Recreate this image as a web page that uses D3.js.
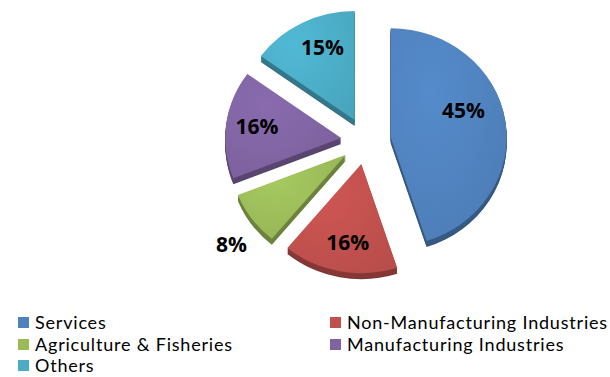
<!DOCTYPE html>
<html><head><meta charset="utf-8">
<script src="https://cdn.jsdelivr.net/npm/d3@7"></script>
<style>body{margin:0;background:#fff;} svg{display:block;}</style>
</head><body>
<svg id="chart" width="610" height="377"></svg>
<script>
const categories = ["Services","Non-Manufacturing Industries","Agriculture & Fisheries","Manufacturing Industries","Others"];
const values = [45,16,8,16,15];
const colors = ["#4F81BD","#C0504D","#9BBB59","#8064A2","#4BACC6"];
const legendOrder = [0,1,2,3,4];
// small label nudges (pixels) to mimic the original label placement
const labelNudgeX = [-4, 1, 5, -7, 3];
const labelNudgeY = [-16, 6, 8, -3, -8];

const svg=d3.select("#chart");
const cx=366, cy=141, rx=116, sy=0.94, explode=25, depth=6;
const FONT="'Open Sans', Lato, sans-serif";
const LFONT="Lato, 'Open Sans', sans-serif";

const pie=d3.pie().sort(null).value(d=>d.v);
const arcs=pie(values.map((v,i)=>({v,i})));
const arc=d3.arc().innerRadius(0).outerRadius(rx);
const defs=svg.append("defs");
colors.forEach((c,i)=>{
  const g=defs.append("radialGradient").attr("id","g"+i)
    .attr("cx","35%").attr("cy","30%").attr("r","85%");
  g.append("stop").attr("offset","0%").attr("stop-color",d3.color(c).brighter(0.2));
  g.append("stop").attr("offset","100%").attr("stop-color",d3.color(c).darker(0.12));
});
function mid(a){return (a.startAngle+a.endAngle)/2;}
function off(a){const m=mid(a);return [explode*Math.sin(m),-explode*Math.cos(m)];}

// sides (extrusion)
arcs.forEach(a=>{
  const [ox,oy]=off(a);
  for(let k=depth;k>=1;k--){
    svg.append("g").attr("transform",`translate(${cx},${cy+k}) scale(1,${sy}) translate(${ox},${oy})`)
      .append("path").attr("d",arc(a)).attr("fill",d3.color(colors[a.data.i]).darker(k===depth?1.2:1.0));
  }
});
// tops
arcs.forEach(a=>{
  const [ox,oy]=off(a);
  svg.append("g").attr("transform",`translate(${cx},${cy}) scale(1,${sy}) translate(${ox},${oy})`)
    .append("path").attr("d",arc(a)).attr("fill",`url(#g${a.data.i})`);
});
// labels
arcs.forEach(a=>{
  const m=mid(a), i=a.data.i;
  const frac=(a.endAngle-a.startAngle)/(2*Math.PI);
  const k = frac<0.1 ? 1.27 : 0.67;
  const rr=explode+k*rx;
  const x=cx+rr*Math.sin(m)+labelNudgeX[i], y=cy-rr*Math.cos(m)*sy+labelNudgeY[i];
  svg.append("text").attr("x",x).attr("y",y).attr("text-anchor","middle")
    .attr("dominant-baseline","central").attr("font-family",FONT)
    .attr("font-weight","bold").attr("font-size",21).attr("fill","#000")
    .text(a.data.v+"%");
});
// legend
const lx=[18,330], ly=[322,344,365];
legendOrder.forEach((i,n)=>{
  const col=n%2,row=Math.floor(n/2);
  const g=svg.append("g").attr("transform",`translate(${lx[col]},${ly[row]})`);
  g.append("rect").attr("x",0).attr("y",-5).attr("width",11).attr("height",11).attr("fill",colors[i]);
  g.append("text").attr("x",17).attr("y",0).attr("dominant-baseline","central")
    .attr("font-family",LFONT).attr("font-size",18).attr("letter-spacing",0.8)
    .attr("fill","#000").text(categories[i]);
});
</script>
</body></html>
